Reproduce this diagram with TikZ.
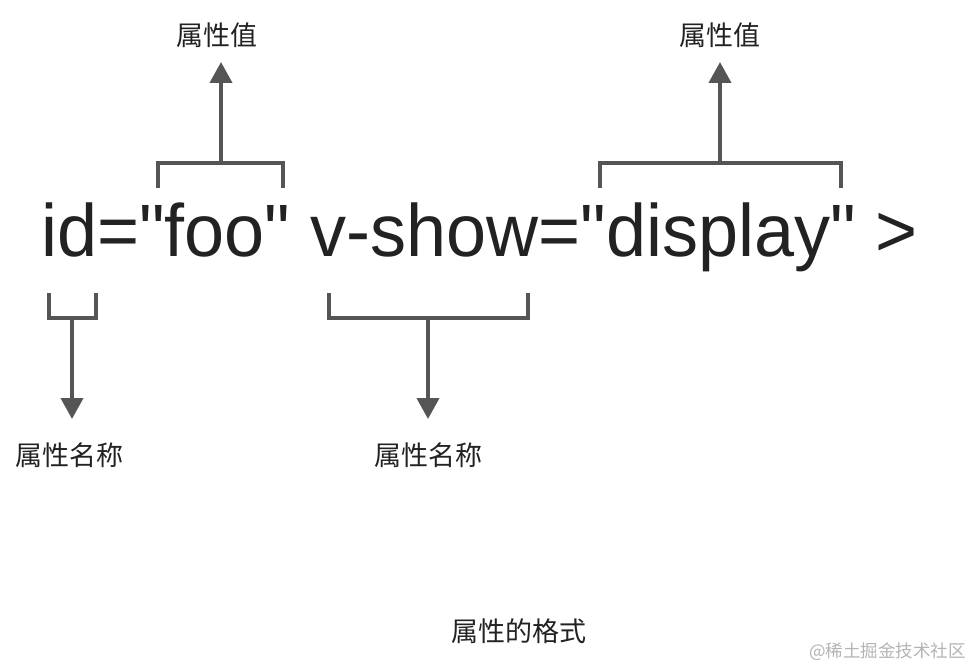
\documentclass[tikz,border=0pt]{standalone}
\usepackage{fontspec}
\newfontfamily\cjk{Noto Sans CJK SC}
\newfontfamily\codefont{Liberation Sans}
\usetikzlibrary{arrows.meta}
\definecolor{linegray}{HTML}{555555}
\definecolor{textdark}{HTML}{222222}
\definecolor{wmgray}{HTML}{B4B4B4}
\tikzset{
  bracketline/.style={draw=linegray, line width=4pt, line cap=butt, line join=miter},
  pointer/.style={draw=linegray, line width=4pt, -{Triangle[width=22pt,length=21pt]}, fill=linegray},
  label/.style={font=\cjk\fontsize{27}{27}\selectfont, text=textdark, inner sep=0pt, anchor=center},
}
\begin{document}
\begin{tikzpicture}[x=1pt,y=-1pt]
\useasboundingbox (0,0) rectangle (974,668);
\fill[white] (0,0) rectangle (974,668);

% main code line
\node[font=\codefont\fontsize{72}{72}\selectfont, text=textdark, inner sep=0pt, anchor=base west, yscale=1.03] (code) at (41,257) {id="foo" v-show="display" >};

% labels
\node[label] (val1) at (217,35) {属性值};
\node[label] (val2) at (720,35) {属性值};
\node[label] (name1) at (70,455) {属性名称};
\node[label] (name2) at (428,455) {属性名称};
\node[label] (caption) at (519,631) {属性的格式};
\node[font=\cjk\fontsize{17.5}{17.5}\selectfont, text=wmgray, inner sep=0pt, anchor=east] (wm) at (966,652) {@稀土掘金技术社区};

% top brackets
\draw[bracketline] (158,188) -- (158,163) -- (283,163) -- (283,188);
\coordinate (b1) at (221,163);
\coordinate (t1) at (221,62);
\draw[bracketline] (600,188) -- (600,163) -- (841,163) -- (841,188);
\coordinate (b2) at (720,163);
\coordinate (t2) at (720,62);

% bottom brackets
\draw[bracketline] (49,293) -- (49,318) -- (96,318) -- (96,293);
\coordinate (b3) at (72,318);
\coordinate (t3) at (72,419);
\draw[bracketline] (329,293) -- (329,318) -- (528,318) -- (528,293);
\coordinate (b4) at (428,318);
\coordinate (t4) at (428,419);

% arrows
\draw[pointer] (b1) -- (t1);
\draw[pointer] (b2) -- (t2);
\draw[pointer] (b3) -- (t3);
\draw[pointer] (b4) -- (t4);
\end{tikzpicture}
\end{document}
